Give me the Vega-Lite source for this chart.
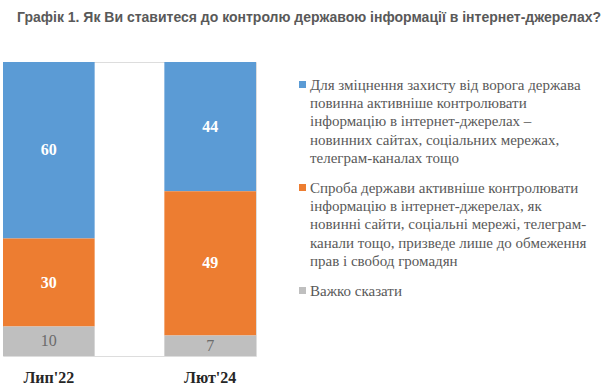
{
  "$schema": "https://vega.github.io/schema/vega-lite/v6.json",
  "width": 253,
  "height": 294,
  "autosize": "none",
  "padding": {"left": 3, "top": 62, "right": 357, "bottom": 34},
  "background": "white",
  "config": {
    "legend": {"labelFont": "Liberation Serif", "labelFontSize": 15}
  },
  "title": {
    "text": "Графік 1. Як Ви ставитеся до контролю державою інформації в інтернет-джерелах?",
    "font": "Liberation Sans",
    "fontSize": 14,
    "fontWeight": "bold",
    "color": "#595959",
    "anchor": "start",
    "dx": 14,
    "offset": 37
  },
  "data": {
    "values": [
      {"period": "Лип'22", "cat": "Для зміцнення захисту від ворога держава|повинна активніше контролювати|інформацію в інтернет-джерелах –|новинних сайтах, соціальних мережах,|телеграм-каналах тощо", "ord": 3, "v": 60},
      {"period": "Лип'22", "cat": "Спроба держави активніше контролювати|інформацію в інтернет-джерелах, як|новинні сайти, соціальні мережі, телеграм-|канали тощо, призведе лише до обмеження|прав і свобод громадян", "ord": 2, "v": 30},
      {"period": "Лип'22", "cat": "Важко сказати", "ord": 1, "v": 10},
      {"period": "Лют'24", "cat": "Для зміцнення захисту від ворога держава|повинна активніше контролювати|інформацію в інтернет-джерелах –|новинних сайтах, соціальних мережах,|телеграм-каналах тощо", "ord": 3, "v": 44},
      {"period": "Лют'24", "cat": "Спроба держави активніше контролювати|інформацію в інтернет-джерелах, як|новинні сайти, соціальні мережі, телеграм-|канали тощо, призведе лише до обмеження|прав і свобод громадян", "ord": 2, "v": 49},
      {"period": "Лют'24", "cat": "Важко сказати", "ord": 1, "v": 7}
    ]
  },
  "transform": [
    {"stack": "v", "groupby": ["period"], "sort": [{"field": "ord", "order": "ascending"}], "as": ["y0", "y1"]},
    {"calculate": "(datum.y0 + datum.y1) / 2", "as": "ymid"}
  ],
  "encoding": {
    "x": {
      "field": "period",
      "type": "nominal",
      "sort": ["Лип'22", "Лют'24"],
      "scale": {"paddingInner": 0.432, "paddingOuter": 0},
      "axis": {
        "title": null,
        "labelAngle": 0,
        "domain": false,
        "ticks": false,
        "labelFont": "Liberation Serif",
        "labelFontSize": 16,
        "labelFontWeight": "bold",
        "labelColor": "#262626",
        "labelPadding": 13
      }
    }
  },
  "layer": [
    {
      "mark": {"type": "bar"},
      "encoding": {
        "y": {"field": "y0", "type": "quantitative", "scale": {"domain": [0, 100], "nice": false}, "axis": null},
        "y2": {"field": "y1"},
        "color": {
          "field": "cat",
          "type": "nominal",
          "scale": {
            "domain": [
              "Для зміцнення захисту від ворога держава|повинна активніше контролювати|інформацію в інтернет-джерелах –|новинних сайтах, соціальних мережах,|телеграм-каналах тощо",
              "Спроба держави активніше контролювати|інформацію в інтернет-джерелах, як|новинні сайти, соціальні мережі, телеграм-|канали тощо, призведе лише до обмеження|прав і свобод громадян",
              "Важко сказати"
            ],
            "range": ["#5B9BD5", "#ED7D31", "#BFBFBF"]
          },
          "legend": {
            "title": null,
            "orient": "none",
            "legendX": 292,
            "legendY": 15,
            "symbolType": "square",
            "symbolSize": 49,
            "symbolStrokeWidth": 0,
            "labelFont": "Liberation Serif",
            "labelFontSize": 15,
            "labelColor": "#595959",
            "labelLimit": 400,
            "labelOffset": 0,
            "labelExpr": "split(datum.label, '|')",
            "rowPadding": 13,
            "encode": {
              "labels": {"update": {"lineHeight": {"value": 18.4}, "font": {"value": "Liberation Serif"}, "fontSize": {"value": 15}}}
            }
          }
        }
      }
    },
    {
      "transform": [{"filter": "datum.ord !== 1"}],
      "mark": {"type": "text", "font": "Liberation Serif", "fontSize": 16, "fontWeight": "bold", "color": "white"},
      "encoding": {
        "y": {"field": "ymid", "type": "quantitative"},
        "text": {"field": "v", "type": "quantitative"}
      }
    },
    {
      "transform": [{"filter": "datum.ord === 1"}],
      "mark": {"type": "text", "font": "Liberation Serif", "fontSize": 16, "color": "#6b6b6b"},
      "encoding": {
        "y": {"field": "ymid", "type": "quantitative"},
        "text": {"field": "v", "type": "quantitative"}
      }
    }
  ]
}
